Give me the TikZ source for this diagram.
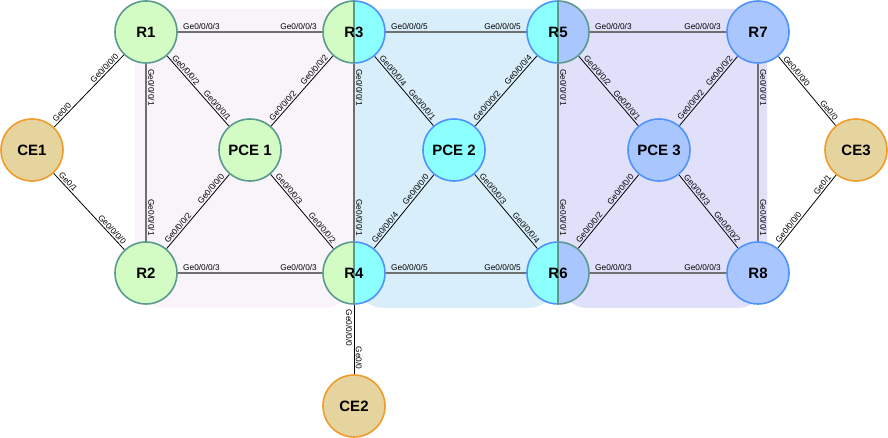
\documentclass[tikz,border=0pt]{standalone}
\usepackage{fontspec}
\setmainfont{Liberation Sans}
\usetikzlibrary{calc}
\pgfdeclarelayer{regions}
\pgfdeclarelayer{edges}
\pgfsetlayers{regions,edges,main}
\definecolor{gfill}{HTML}{D3FCC5}
\definecolor{tealst}{HTML}{5B9A8F}
\definecolor{cyanfill}{HTML}{8CFFFF}
\definecolor{bluest}{HTML}{5093FA}
\definecolor{lbfill}{HTML}{AAC6FF}
\definecolor{cefill}{HTML}{E6D49E}
\definecolor{cest}{HTML}{EE9C2B}
\definecolor{pinkbg}{HTML}{F8F4F9}
\definecolor{bluebg}{HTML}{D9EEFB}
\definecolor{purplebg}{HTML}{E1E0FB}
\definecolor{edgegray}{HTML}{707070}
\tikzset{
  router/.style={circle, minimum size=62pt, inner sep=0pt, line width=1.6pt,
    font=\fontsize{15}{15}\selectfont\bfseries},
  gnode/.style={router, fill=gfill, draw=tealst},
  bnode/.style={router, fill=lbfill, draw=bluest},
  cnode/.style={router, fill=cyanfill, draw=bluest},
  cenode/.style={router, fill=cefill, draw=cest},
  splitnode/.style={router},
  thick link/.style={draw=edgegray, line width=1.8pt},
  thin link/.style={draw=black, line width=0.8pt},
  lbl/.style={font=\fontsize{8.3}{8.3}\selectfont, inner xsep=4.5pt, inner ysep=1.4pt, sloped},
  lbls/.style={lbl, pos=0, anchor=south west},
  lble/.style={lbl, pos=1, anchor=south east},
}
\newcommand\halfcircles[5]{%
  \fill[#2] (#1) ++(0,31) arc[start angle=90,end angle=270,radius=31pt] -- cycle;
  \fill[#4] (#1) ++(0,31) arc[start angle=90,end angle=-90,radius=31pt] -- cycle;
  \draw[#3, line width=1.6pt] (#1) ++(0,31) arc[start angle=90,end angle=270,radius=31pt];
  \draw[#5, line width=1.6pt] (#1) ++(0,31) arc[start angle=90,end angle=-90,radius=31pt];
  \draw[tealst, line width=1.6pt] (#1) ++(0,31) -- ++(0,-62);
}
\begin{document}
\begin{tikzpicture}[x=1pt,y=1pt]
\useasboundingbox (0,0) rectangle (888,438);
% regions
\begin{pgfonlayer}{regions}
\fill[pinkbg, rounded corners=30pt] (135,130) rectangle (354,429);
\fill[bluebg, rounded corners=30pt] (354,130) rectangle (558,429);
\fill[purplebg, rounded corners=30pt] (558,130) rectangle (767,429);
\end{pgfonlayer}
% nodes
\node[cenode] (CE1) at (32,288) {CE1};
\node[gnode] (R1) at (146,406) {R1};
\node[gnode] (R2) at (146,165) {R2};
\node[gnode] (PCE1) at (250,288) {PCE 1};
\halfcircles{354,406}{gfill}{tealst}{cyanfill}{bluest}
\node[splitnode] (R3) at (354,406) {R3};
\halfcircles{354,165}{gfill}{tealst}{cyanfill}{bluest}
\node[splitnode] (R4) at (354,165) {R4};
\node[cnode] (PCE2) at (454,288) {PCE 2};
\halfcircles{558,406}{cyanfill}{bluest}{lbfill}{tealst}
\node[splitnode] (R5) at (558,406) {R5};
\halfcircles{558,165}{cyanfill}{bluest}{lbfill}{tealst}
\node[splitnode] (R6) at (558,165) {R6};
\node[bnode] (PCE3) at (659,288) {PCE 3};
\node[bnode] (R7) at (758,406) {R7};
\node[bnode] (R8) at (758,165) {R8};
\node[cenode] (CE3) at (856,288) {CE3};
\node[cenode] (CE2) at (354,32) {CE2};
% edges
\begin{pgfonlayer}{edges}
% thick links
\draw[thick link] (R1) -- (R3) node[lbls]{Ge0/0/0/3} node[lble]{Ge0/0/0/3};
\draw[thick link] (R2) -- (R4) node[lbls]{Ge0/0/0/3} node[lble]{Ge0/0/0/3};
\draw[thick link] (R3) -- (R5) node[lbls]{Ge0/0/0/5} node[lble]{Ge0/0/0/5};
\draw[thick link] (R4) -- (R6) node[lbls]{Ge0/0/0/5} node[lble]{Ge0/0/0/5};
\draw[thick link] (R5) -- (R7) node[lbls]{Ge0/0/0/3} node[lble]{Ge0/0/0/3};
\draw[thick link] (R6) -- (R8) node[lbls]{Ge0/0/0/3} node[lble]{Ge0/0/0/3};
\draw[thick link] (R1) -- (R2) node[lbls]{Ge0/0/0/1} node[lble]{Ge0/0/0/1};
\draw[thick link] (R3) -- (R4) node[lbls]{Ge0/0/0/1} node[lble]{Ge0/0/0/1};
\draw[thick link] (R5) -- (R6) node[lbls]{Ge0/0/0/1} node[lble]{Ge0/0/0/1};
\draw[thick link] (R7) -- (R8) node[lbls]{Ge0/0/0/1} node[lble]{Ge0/0/0/1};
% thin links
\draw[thin link] (CE1) -- (R1) node[lbls]{Ge0/0} node[lble]{Ge0/0/0/0};
\draw[thin link] (CE1) -- (R2) node[lbls]{Ge0/1} node[lble]{Ge0/0/0/0};
\draw[thin link] (R1) -- (PCE1) node[lbls]{Ge0/0/0/2} node[lble]{Ge0/0/0/1};
\draw[thin link] (PCE1) -- (R3) node[lbls]{Ge0/0/0/2} node[lble]{Ge0/0/0/2};
\draw[thin link] (R2) -- (PCE1) node[lbls]{Ge0/0/0/2} node[lble]{Ge0/0/0/0};
\draw[thin link] (PCE1) -- (R4) node[lbls]{Ge0/0/0/3} node[lble]{Ge0/0/0/2};
\draw[thin link] (R3) -- (PCE2) node[lbls]{Ge0/0/0/4} node[lble]{Ge0/0/0/1};
\draw[thin link] (PCE2) -- (R5) node[lbls]{Ge0/0/0/2} node[lble]{Ge0/0/0/4};
\draw[thin link] (R4) -- (PCE2) node[lbls]{Ge0/0/0/4} node[lble]{Ge0/0/0/0};
\draw[thin link] (PCE2) -- (R6) node[lbls]{Ge0/0/0/3} node[lble]{Ge0/0/0/4};
\draw[thin link] (R5) -- (PCE3) node[lbls]{Ge0/0/0/2} node[lble]{Ge0/0/0/1};
\draw[thin link] (PCE3) -- (R7) node[lbls]{Ge0/0/0/2} node[lble]{Ge0/0/0/2};
\draw[thin link] (R6) -- (PCE3) node[lbls]{Ge0/0/0/2} node[lble]{Ge0/0/0/0};
\draw[thin link] (PCE3) -- (R8) node[lbls]{Ge0/0/0/3} node[lble]{Ge0/0/0/2};
\draw[thin link] (R7) -- (CE3) node[lbls]{Ge0/0/0/0} node[lble]{Ge0/0};
\draw[thin link] (R8) -- (CE3) node[lbls]{Ge0/0/0/0} node[lble]{Ge0/1};
\draw[thin link] (R4) -- (CE2) node[lbl, pos=0, anchor=north west]{Ge0/0/0/0} node[lble]{Ge0/0};
\end{pgfonlayer}
\end{tikzpicture}
\end{document}
